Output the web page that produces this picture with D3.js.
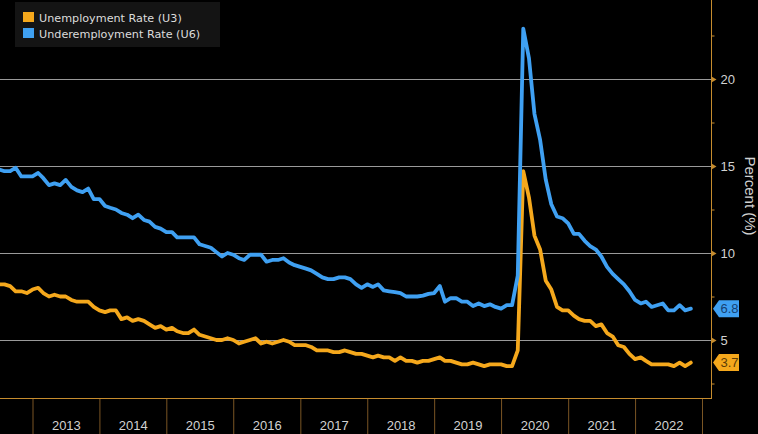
<!DOCTYPE html>
<html><head><meta charset="utf-8">
<script src="https://cdn.jsdelivr.net/npm/d3@7/dist/d3.min.js"></script>
<style>
html,body{margin:0;padding:0;background:#000;}
svg{display:block;}
</style></head>
<body>
<svg id="chart" width="758" height="434"></svg>
<script>
// ---- data (monthly, first point = June 2012, last = October 2022) ----
const startYear = 2012, startMonth = 5; // June (0-based)
const seriesNames = ["Unemployment Rate (U3)", "Underemployment Rate (U6)"];
const u3 = [
  8.2, 8.2, 8.1, 7.8, 7.8, 7.7, 7.9,
  8.0, 7.7, 7.5, 7.6, 7.5, 7.5, 7.3, 7.2, 7.2, 7.2, 6.9, 6.7,
  6.6, 6.7, 6.7, 6.2, 6.3, 6.1, 6.2, 6.1, 5.9, 5.7, 5.8, 5.6,
  5.7, 5.5, 5.4, 5.4, 5.6, 5.3, 5.2, 5.1, 5.0, 5.0, 5.1, 5.0,
  4.8, 4.9, 5.0, 5.1, 4.8, 4.9, 4.8, 4.9, 5.0, 4.9, 4.7, 4.7,
  4.7, 4.6, 4.4, 4.4, 4.4, 4.3, 4.3, 4.4, 4.3, 4.2, 4.2, 4.1,
  4.0, 4.1, 4.0, 4.0, 3.8, 4.0, 3.8, 3.8, 3.7, 3.8, 3.8, 3.9,
  4.0, 3.8, 3.8, 3.7, 3.6, 3.6, 3.7, 3.6, 3.5, 3.6, 3.6, 3.6,
  3.5, 3.5, 4.4, 14.7, 13.2, 11.0, 10.2, 8.4, 7.9, 6.9, 6.7, 6.7,
  6.4, 6.2, 6.1, 6.1, 5.8, 5.9, 5.4, 5.2, 4.7, 4.6, 4.2, 3.9,
  4.0, 3.8, 3.6, 3.6, 3.6, 3.6, 3.5, 3.7, 3.5, 3.7
];
const u6 = [
  14.8, 14.7, 14.7, 14.9, 14.4, 14.4, 14.4,
  14.6, 14.3, 13.9, 14.0, 13.9, 14.2, 13.8, 13.6, 13.5, 13.7, 13.1, 13.1,
  12.7, 12.6, 12.5, 12.3, 12.2, 12.0, 12.2, 11.9, 11.8, 11.5, 11.4, 11.2,
  11.2, 10.9, 10.9, 10.9, 10.9, 10.5, 10.4, 10.3, 10.05, 9.8, 10.0, 9.9,
  9.7, 9.6, 9.9, 9.9, 9.9, 9.5, 9.6, 9.6, 9.7, 9.45, 9.3, 9.2,
  9.1, 9.0, 8.8, 8.6, 8.5, 8.5, 8.6, 8.6, 8.5, 8.2, 8.0, 8.2,
  8.05, 8.2, 7.85, 7.8, 7.75, 7.7, 7.5, 7.5, 7.5, 7.55, 7.65, 7.7,
  8.1, 7.2, 7.4, 7.4, 7.2, 7.2, 6.95, 7.1, 6.95, 7.05, 6.9, 6.8,
  7.0, 7.0, 8.7, 22.9, 21.2, 18.0, 16.5, 14.2, 12.8, 12.1, 12.0, 11.7,
  11.1, 11.1, 10.7, 10.4, 10.2, 9.8, 9.2, 8.8, 8.5, 8.2, 7.8, 7.3,
  7.1, 7.2, 6.9, 7.0, 7.1, 6.7, 6.7, 7.0, 6.7, 6.8
];
const yearLabels = ["2013","2014","2015","2016","2017","2018","2019","2020","2021","2022"];
const majorTicks = [5, 10, 15, 20];
const minorTicks = [2.5, 7.5, 12.5, 17.5, 22.5];
const lastLabels = ["3.7", "6.8"];

// ---- styles ----
const colors = ["#f5a81c", "#3fa0f2"];
const axisColor = "#c68c2e";
const W = 758, H = 434;
const plotRight = 711, plotBottom = 398;

const svg = d3.select("#chart");
svg.append("rect").attr("width", W).attr("height", H).attr("fill", "#000");

// point dates at month end
const dates = u3.map((_, i) => new Date(startYear, startMonth + i + 1, 1));

const x = d3.scaleTime()
  .domain([new Date(2013, 0, 1), new Date(2023, 0, 1)])
  .range([32.5, 702]);
const y = d3.scaleLinear().domain([5, 20]).range([340, 79]);

// clip
svg.append("clipPath").attr("id", "clip")
  .append("rect").attr("x", 0).attr("y", 0).attr("width", plotRight).attr("height", plotBottom);

// gridlines
svg.append("g").selectAll("line").data(majorTicks).join("line")
  .attr("x1", 0).attr("x2", plotRight)
  .attr("y1", d => Math.round(y(d)) + 0.5).attr("y2", d => Math.round(y(d)) + 0.5)
  .attr("stroke", "#9a9a9a").attr("stroke-width", 1);

// lines
const line = d3.line().x((d, i) => x(dates[i])).y(d => y(d));
const g = svg.append("g").attr("clip-path", "url(#clip)");
[u3, u6].forEach((s, k) => {
  g.append("path").datum(s).attr("d", line)
    .attr("fill", "none").attr("stroke", colors[k]).attr("stroke-width", 3.8)
    .attr("stroke-linejoin", "round").attr("stroke-linecap", "round");
});

// bottom axis line
svg.append("line").attr("x1", 0).attr("x2", plotRight + 0.5)
  .attr("y1", plotBottom + 0.5).attr("y2", plotBottom + 0.5)
  .attr("stroke", axisColor).attr("stroke-width", 1);

// year separators via axis
const yearDates = d3.range(2013, 2024).map(yr => new Date(yr, 0, 1));
const sepAxis = d3.axisBottom(x).tickValues(yearDates).tickSize(36).tickFormat("");
const sepG = svg.append("g").attr("transform", `translate(0,${plotBottom + 1})`).call(sepAxis);
sepG.select(".domain").remove();
sepG.selectAll(".tick line").attr("stroke", "#7a5524").attr("stroke-width", 1);

// year labels via axis at mid-year
const midDates = yearLabels.map(l => new Date(+l, 6, 2));
const labAxis = d3.axisBottom(x).tickValues(midDates).tickSize(0).tickFormat((d, i) => yearLabels[i]);
const labG = svg.append("g").attr("transform", `translate(0,${plotBottom})`).call(labAxis);
labG.select(".domain").remove();
labG.selectAll("text").attr("fill", "#d2d2d2").attr("font-family", "Liberation Sans, Arial, sans-serif")
  .attr("font-size", 13).attr("dy", 0).attr("y", 32);

// right axis
const rAxis = d3.axisRight(y).tickValues(majorTicks).tickSize(0).tickPadding(9).tickFormat(d3.format("d"));
const rG = svg.append("g").attr("transform", `translate(${plotRight + 0.5},0)`).call(rAxis);
rG.select(".domain").remove();
rG.selectAll("text").attr("fill", "#d2d2d2").attr("font-family", "Liberation Sans, Arial, sans-serif").attr("font-size", 13);
rG.selectAll(".tick").append("path").attr("d", "M0,-3L5,0L0,3Z").attr("fill", axisColor);

const mAxis = d3.axisRight(y).tickValues(minorTicks).tickSize(3).tickFormat("");
const mG = svg.append("g").attr("transform", `translate(${plotRight + 0.5},0)`).call(mAxis);
mG.select(".domain").remove();
mG.selectAll(".tick line").attr("stroke", axisColor);

svg.append("line").attr("x1", plotRight + 0.5).attr("x2", plotRight + 0.5)
  .attr("y1", 0).attr("y2", plotBottom + 1).attr("stroke", axisColor).attr("stroke-width", 1);

// axis title
svg.append("text").attr("transform", `translate(745,196) rotate(90)`)
  .attr("text-anchor", "middle").attr("fill", "#d2d2d2")
  .attr("font-family", "Liberation Sans, Arial, sans-serif").attr("font-size", 15)
  .text("Percent (%)");

// last value labels
[u3, u6].forEach((s, k) => {
  const v = s[s.length - 1];
  const cy = y(v);
  const gl = svg.append("g").attr("transform", `translate(713,${cy})`);
  gl.append("path").attr("d", "M0,0L6,-8.5L26,-8.5L26,8.5L6,8.5Z").attr("fill", colors[k]);
  gl.append("text").attr("x", 16.5).attr("y", 0).attr("dy", "0.36em").attr("text-anchor", "middle")
    .attr("fill", k === 0 ? "#5a3c06" : "#163f70")
    .attr("font-family", "Liberation Sans, Arial, sans-serif").attr("font-size", 13)
    .text(lastLabels[k]);
});

// legend
const lg = svg.append("g");
lg.append("rect").attr("x", 15).attr("y", 2).attr("width", 205).attr("height", 45).attr("fill", "#141414");
seriesNames.forEach((n, k) => {
  lg.append("rect").attr("x", 23).attr("y", 12 + k * 16).attr("width", 11).attr("height", 10).attr("fill", colors[k]);
  lg.append("text").attr("x", 39).attr("y", 21.5 + k * 16).attr("fill", "#dcdcdc")
    .attr("font-family", "DejaVu Sans, sans-serif").attr("font-size", 11.2).text(n);
});
</script>
</body></html>
